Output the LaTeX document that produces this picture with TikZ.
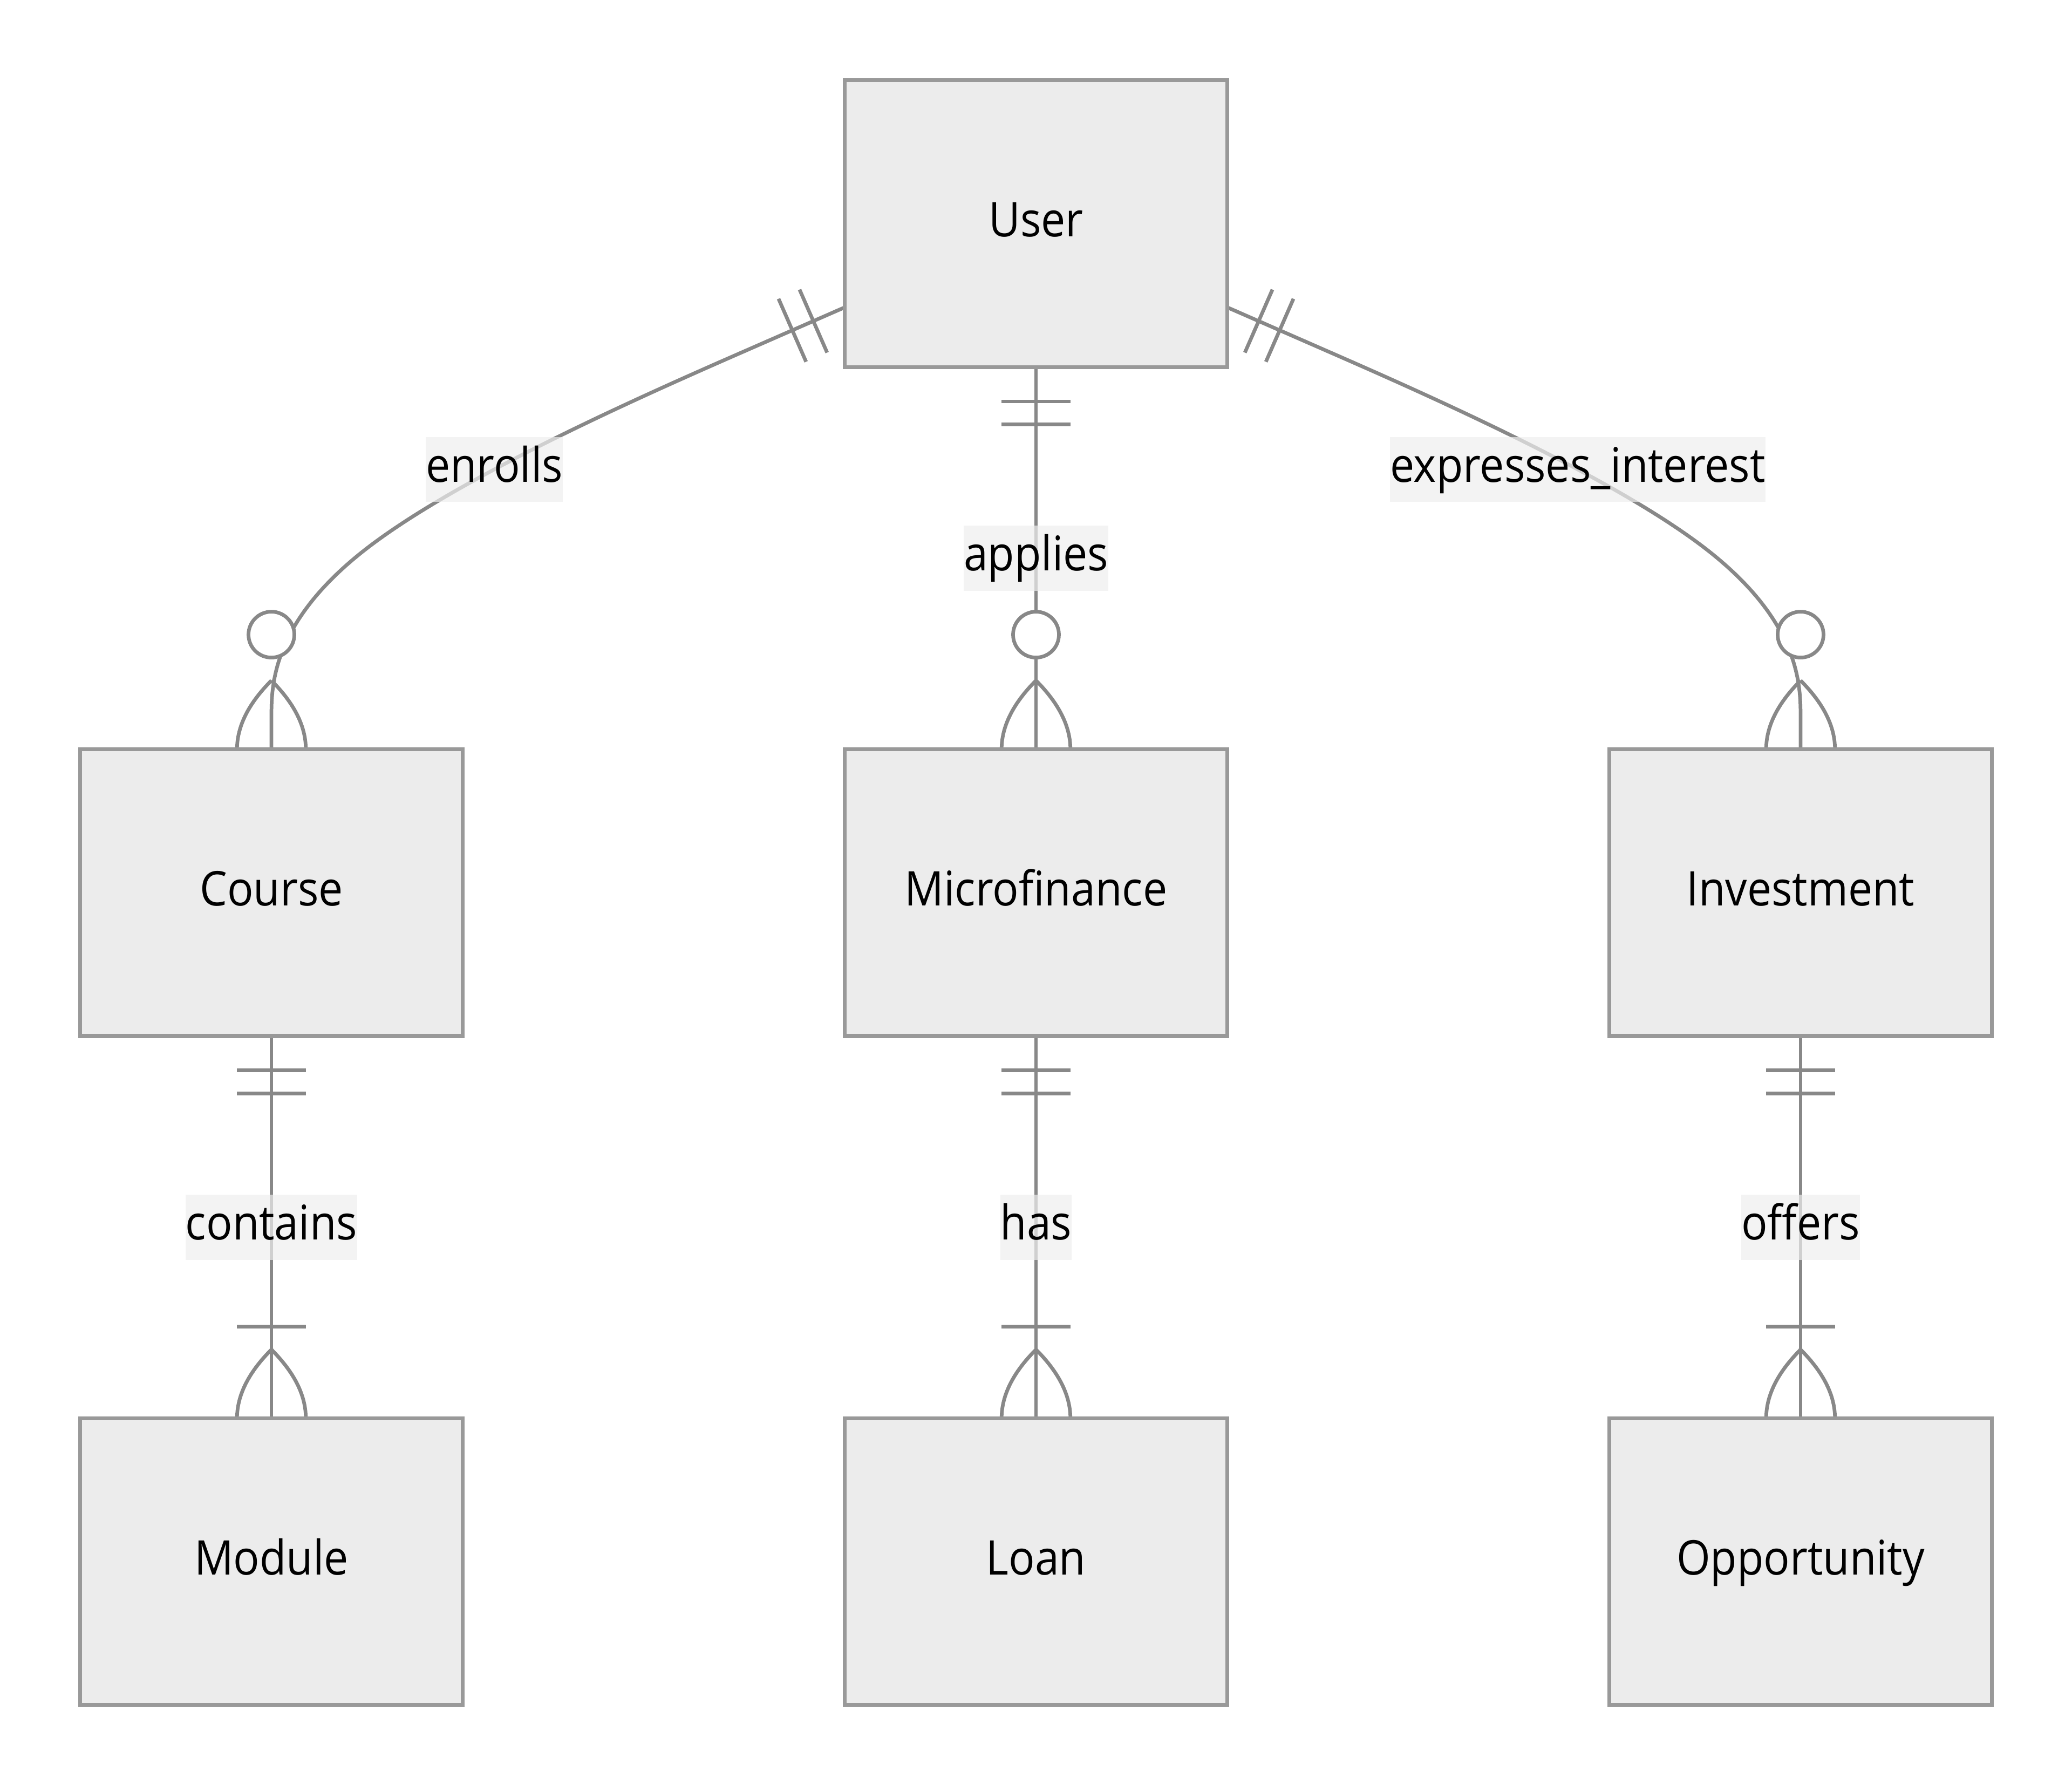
\documentclass[tikz,border=0pt]{standalone}
\usepackage{fontspec}
\setmainfont{Open Sans}[FakeStretch=0.91]
\usetikzlibrary{calc}
\pgfdeclarelayer{edges}
\pgfsetlayers{edges,main}
\definecolor{boxfill}{HTML}{ECECEC}
\definecolor{boxline}{HTML}{999999}
\definecolor{relcol}{HTML}{888888}
\definecolor{lblfill}{HTML}{EEEEEE}
\newcommand{\efont}{\fontsize{12.5pt}{15pt}\selectfont}
% one-only bars at distances 9 and 15 from end #1 toward #2
\newcommand{\ermOnlyOne}[2]{%
  \draw[relline] ($(#1)!9pt!(#2)!9pt!90:(#2)$) -- ($(#1)!9pt!(#2)!9pt!-90:(#2)$);
  \draw[relline] ($(#1)!15pt!(#2)!9pt!90:(#2)$) -- ($(#1)!15pt!(#2)!9pt!-90:(#2)$);}
% crow's foot prongs at end #1, line coming from #2
\newcommand{\ermProngs}[2]{%
  \draw[relline] ($(#1)!18pt!(#2)$) .. controls ($(#1)!12pt!(#2)!6pt!90:(#2)$) and ($(#1)!6pt!(#2)!9pt!90:(#2)$) .. ($(#1)!9pt!90:(#2)$);
  \draw[relline] ($(#1)!18pt!(#2)$) .. controls ($(#1)!12pt!(#2)!6pt!-90:(#2)$) and ($(#1)!6pt!(#2)!9pt!-90:(#2)$) .. ($(#1)!9pt!-90:(#2)$);}
\newcommand{\ermZeroMany}[2]{\ermProngs{#1}{#2}%
  \draw[relline,fill=white] ($(#1)!30pt!(#2)$) circle[radius=6pt];}
\newcommand{\ermOneMany}[2]{\ermProngs{#1}{#2}%
  \draw[relline] ($(#1)!24pt!(#2)!9pt!90:(#2)$) -- ($(#1)!24pt!(#2)!9pt!-90:(#2)$);}
% basis spline through three points, with label
\newcommand{\ermBasis}[4]{%
  \coordinate (bM) at ($(#1)!0.5!(#3)$);
  \coordinate (bK) at ($(#2)!1/3!(bM)$);
  \draw[relline] (#1) -- ($(#1)!1/6!(#2)$)
    .. controls ($(#1)!1/3!(#2)$) and ($(#1)!2/3!(#2)$) .. (bK) node[lbl,pos=0.65] {#4}
    .. controls ($(#2)!1/3!(#3)$) and ($(#2)!2/3!(#3)$) .. ($(#2)!5/6!(#3)$) -- (#3);}
\tikzset{
  entity/.style={draw=boxline, fill=boxfill, line width=1pt, minimum width=100pt,
    minimum height=75pt, inner sep=0pt, outer sep=0pt, text height=6.8pt,
    text depth=0pt, font=\efont},
  relline/.style={draw=relcol, line width=0.95pt},
  lbl/.style={fill=lblfill, fill opacity=0.7, text opacity=1, draw=none,
    inner sep=0pt, outer sep=0pt, text height=11.8pt, text depth=5.2pt, font=\efont}
}
\begin{document}
\begin{tikzpicture}[x=1pt,y=-1pt]
\useasboundingbox (0,0) rectangle (542,466.8);
\node[entity] (User) at (271,58.5) {User};
\node[entity] (Course) at (71,233.5) {Course};
\node[entity] (Microfinance) at (271,233.5) {Microfinance};
\node[entity] (Investment) at (471,233.5) {Investment};
\node[entity] (Module) at (71,408.5) {Module};
\node[entity] (Loan) at (271,408.5) {Loan};
\node[entity] (Opportunity) at (471,408.5) {Opportunity};
\begin{pgfonlayer}{edges}
  % User -> Course
  \coordinate (eA) at ($(User.west)+(0,21.875)$);
  \coordinate (eB) at ($(Course.north)!0.5!(Course.north |- User.south)$);
  \ermBasis{eA}{eB}{Course.north}{enrolls}
  \ermOnlyOne{eA}{eB}
  \ermZeroMany{Course.north}{eB}
  % User -> Investment
  \coordinate (fA) at ($(User.east)+(0,21.875)$);
  \coordinate (fB) at ($(Investment.north)!0.5!(Investment.north |- User.south)$);
  \ermBasis{fA}{fB}{Investment.north}{expresses\_interest}
  \ermOnlyOne{fA}{fB}
  \ermZeroMany{Investment.north}{fB}
  % User -> Microfinance
  \draw[relline] (User.south) -- (Microfinance.north) node[lbl,midway] {applies};
  \ermOnlyOne{User.south}{Microfinance.north}
  \ermZeroMany{Microfinance.north}{User.south}
  % Course -> Module
  \draw[relline] (Course.south) -- (Module.north) node[lbl,midway] {contains};
  \ermOnlyOne{Course.south}{Module.north}
  \ermOneMany{Module.north}{Course.south}
  % Microfinance -> Loan
  \draw[relline] (Microfinance.south) -- (Loan.north) node[lbl,midway] {has};
  \ermOnlyOne{Microfinance.south}{Loan.north}
  \ermOneMany{Loan.north}{Microfinance.south}
  % Investment -> Opportunity
  \draw[relline] (Investment.south) -- (Opportunity.north) node[lbl,midway] {offers};
  \ermOnlyOne{Investment.south}{Opportunity.north}
  \ermOneMany{Opportunity.north}{Investment.south}
\end{pgfonlayer}
\end{tikzpicture}
\end{document}
